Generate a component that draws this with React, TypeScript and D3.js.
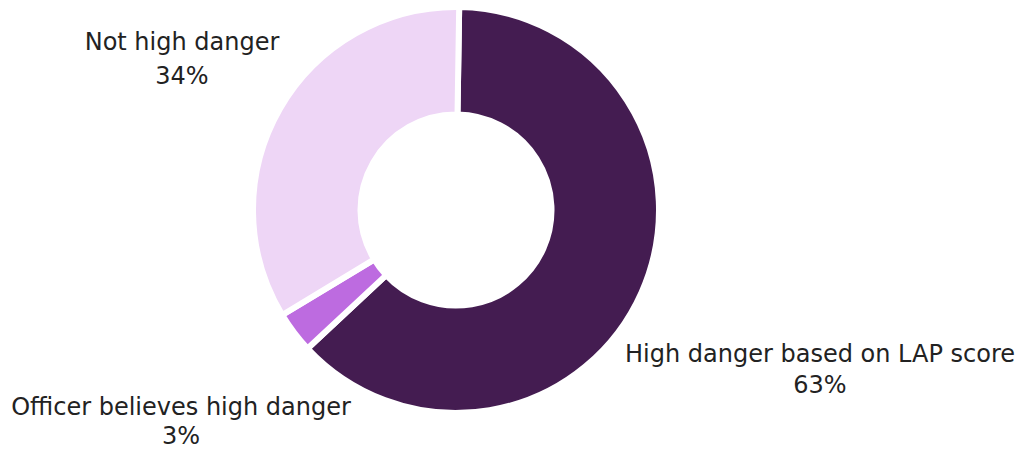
import React from "react";
import * as d3 from "d3";

const categories = ["High danger based on LAP score", "Officer believes high danger", "Not high danger"];
const values = [62.8, 3.3, 33.9];
const percentLabels = ["63%", "3%", "34%"];
const colors = ["#441C51", "#BD6BE0", "#EED6F6"];

const W = 1023;
const H = 451;

export default function App() {
  const cx = 456;
  const cy = 210;
  const outerR = 203;
  const innerR = 95.5;
  const startOffset = (0.9 * Math.PI) / 180;

  const pie = d3
    .pie<number>()
    .sort(null)
    .value((d) => d)
    .startAngle(startOffset)
    .endAngle(2 * Math.PI + startOffset);
  const arcs = pie(values);
  const arcGen = d3.arc<d3.PieArcDatum<number>>().innerRadius(innerR).outerRadius(outerR);

  // label positions (text anchors, middle aligned)
  const labelPos = [
    { x: 820, y: 362 },
    { x: 181, y: 415 },
    { x: 182, y: 50 },
  ];
  const lineGaps = [31, 29, 34];

  return (
    <svg
      width={W}
      height={H}
      style={{ position: "absolute", left: 0, top: 0, background: "#fff" }}
      fontFamily="'DejaVu Sans', sans-serif"
    >
      <g transform={`translate(${cx},${cy})`}>
        {arcs.map((a, i) => (
          <path key={i} d={arcGen(a) || ""} fill={colors[i]} stroke="#fff" strokeWidth={6} strokeLinejoin="miter" />
        ))}
      </g>
      {categories.map((c, i) => (
        <g key={c}>
          <text x={labelPos[i].x} y={labelPos[i].y} textAnchor="middle" fontSize={24} fill="#222">
            {c}
          </text>
          <text x={labelPos[i].x} y={labelPos[i].y + lineGaps[i]} textAnchor="middle" fontSize={24} fill="#222">
            {percentLabels[i]}
          </text>
        </g>
      ))}
    </svg>
  );
}
